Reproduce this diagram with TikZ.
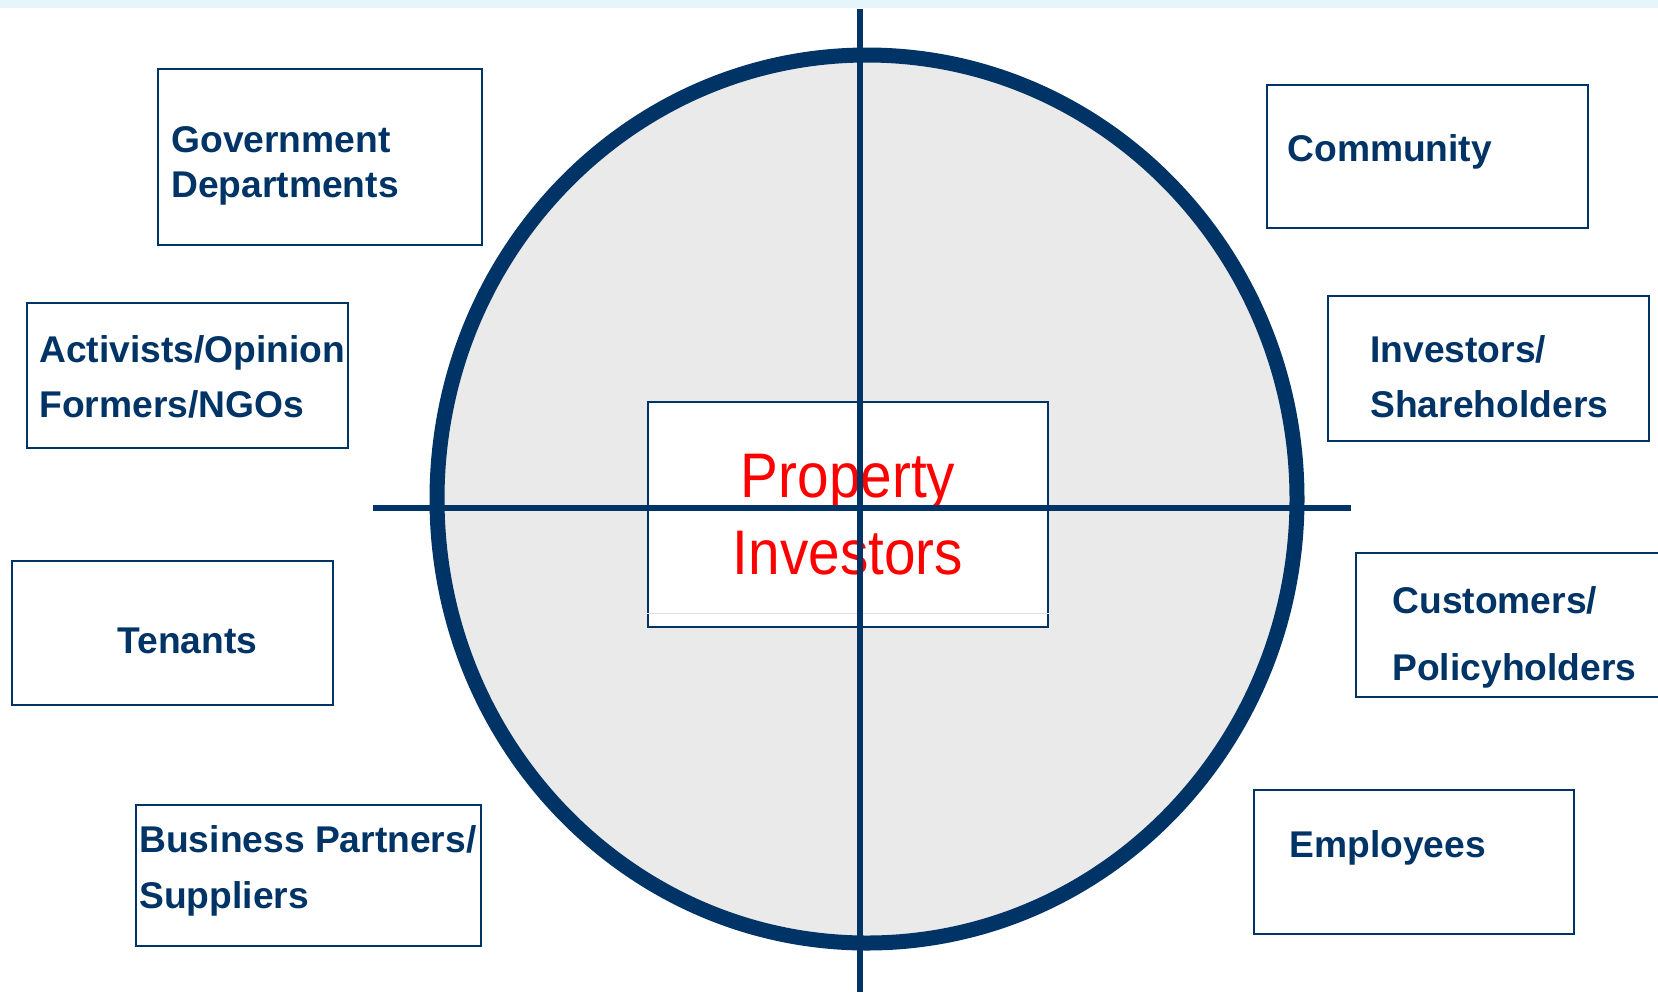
\documentclass[tikz,border=0pt]{standalone}
\usepackage{fontspec}
\usepackage{tikz}
\usetikzlibrary{shapes.geometric}
\newfontfamily\stakefont{Liberation Sans}
\newfontfamily\hubfont[FakeStretch=0.9]{Liberation Sans}
\definecolor{NavyRing}{HTML}{003366}
\definecolor{HubRed}  {HTML}{FF0000}
\definecolor{Granite} {HTML}{EAEAEA}
\definecolor{SkyBand} {HTML}{E6F5FA}

\begin{document}
\begin{tikzpicture}[x=0.5pt,y=-0.5pt,
          ring/.style={ellipse,draw=NavyRing,line width=7.5pt,
                       fill=Granite,inner sep=0pt},
          hub/.style={draw=NavyRing,line width=1pt,fill=white,
                      align=center,text=HubRed,inner sep=0pt,
                      font=\hubfont\fontsize{31.5}{38.5}\selectfont},
          stake/.style={draw=NavyRing,line width=1pt,fill=white,
                        inner sep=0pt},
          tag/.style={anchor=west,align=left,inner sep=0pt,text=NavyRing,
                      font=\stakefont\bfseries\fontsize{18.6}{22.5}\selectfont},
          axis/.style={NavyRing,line width=3pt}]
        \useasboundingbox (0,0) rectangle (1658,992);
        \fill[SkyBand] (0,0) rectangle (1658,8);

        % stakeholder ring with the investors at its centre
        \node[ring,minimum width=430pt,minimum height=444pt] (ring) at (867,499) {};
        \node[hub,minimum width=200pt,minimum height=112.5pt] (hub) at (848,514.5)
            {Property\\Investors};
        \draw[gray!25,line width=0.5pt] ([shift={(0,-15)}]hub.south west)
            -- ([shift={(0,-15)}]hub.south east);

        % cross through the ring
        \coordinate (top)    at (860,9);
        \coordinate (bottom) at (860,992);
        \coordinate (left)   at (373,508);
        \coordinate (right)  at (1351,508);
        \draw[axis] (top) -- (bottom);
        \draw[axis] (left) -- (right);

        % left-hand stakeholders
        \node[stake,minimum width=162pt,minimum height=88pt] (gov) at (320,157) {};
        \node[tag] at ([shift={(14,9)}]gov.west) {Government\\Departments};
        \node[stake,minimum width=160.5pt,minimum height=72.5pt] (ngo) at (187.5,375.5) {};
        \node[tag] at ([shift={(13,1)}]ngo.west) {Activists/Opinion\\[5pt]Formers/NGOs};
        \node[stake,minimum width=160.5pt,minimum height=72pt] (ten) at (172.5,633) {};
        \node[tag] at ([shift={(106,8)}]ten.west) {Tenants};
        \node[stake,minimum width=172.5pt,minimum height=70.5pt] (sup) at (308.5,875.5) {};
        \node[tag] at ([shift={(4,-4.5)}]sup.west) {Business Partners/\\[5.5pt]Suppliers};

        % right-hand stakeholders
        \node[stake,minimum width=160.5pt,minimum height=71.5pt] (com) at (1427.5,156.5) {};
        \node[tag] at ([shift={(21,-5)}]com.west) {Community};
        \node[stake,minimum width=160.5pt,minimum height=72.5pt] (inv) at (1488.5,368.5) {};
        \node[tag] at ([shift={(43,8)}]inv.west) {Investors/\\[5pt]Shareholders};
        \node[stake,minimum width=157pt,minimum height=72pt] (cus) at (1513,625) {};
        \node[tag] at ([shift={(37,12)}]cus.west) {Customers/\\[11pt]Policyholders};
        \node[stake,minimum width=160pt,minimum height=72pt] (emp) at (1414,862) {};
        \node[tag] at ([shift={(36,-14)}]emp.west) {Employees};
      \end{tikzpicture}
\end{document}
